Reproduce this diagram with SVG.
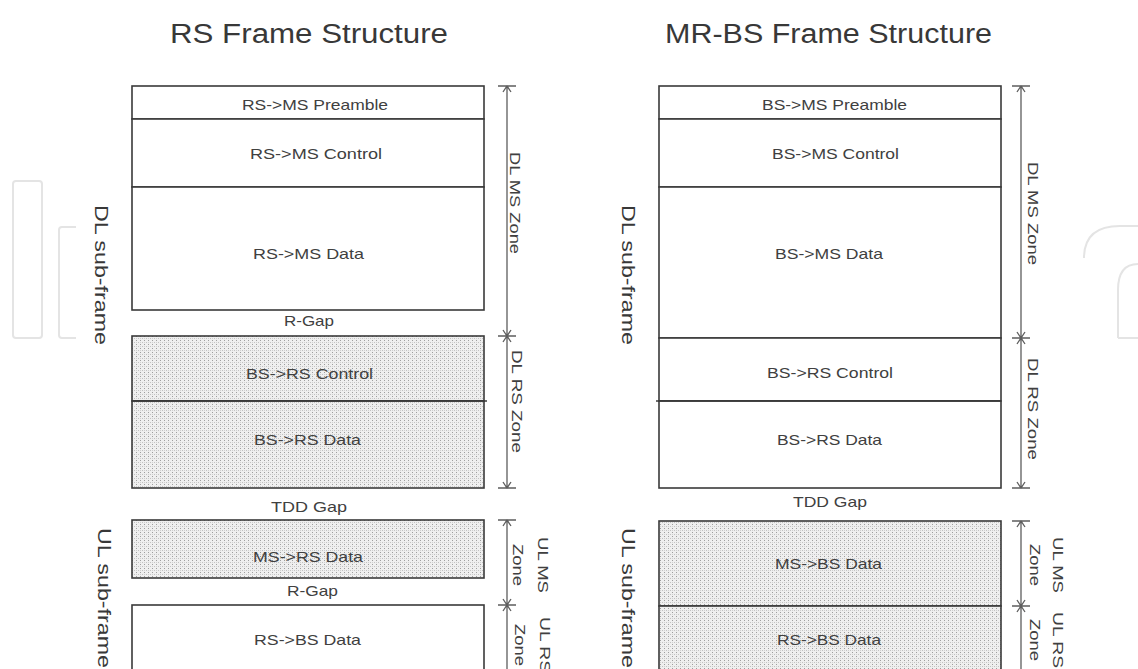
<svg xmlns="http://www.w3.org/2000/svg" width="1138" height="669" viewBox="0 0 1138 669">
<style>
.bg{fill:#ffffff}
.box{fill:#ffffff;stroke:#3a3a3a;stroke-width:1.6}
.shade{fill:url(#dots);stroke:#3a3a3a;stroke-width:1.6}
.div{stroke:#3a3a3a;stroke-width:1.4;fill:none}
.lbl{font-family:"Liberation Sans",Arial,sans-serif;font-size:15px;fill:#404040}
.title{font-family:"Liberation Sans",Arial,sans-serif;font-size:27px;fill:#383838}
.side{font-family:"Liberation Sans",Arial,sans-serif;font-size:18px;fill:#383838}
.dim{stroke:#5e5e5e;stroke-width:1.3;fill:none}
.wm{stroke:#e4e4e4;stroke-width:2;fill:none}
</style>
<defs>
<pattern id="dots" width="4" height="4" patternUnits="userSpaceOnUse">
<rect width="4" height="4" fill="#efefef"/>
<rect x="0" y="0" width="1" height="1" fill="#9e9e9e"/>
<rect x="2" y="2" width="1" height="1" fill="#c2c2c2"/>
<rect x="0" y="2" width="1" height="1" fill="#d0d0d0"/>
</pattern>
</defs>
<rect class="bg" x="0" y="0" width="1138" height="669"/>
<g id="watermark">
<rect class="wm" x="13" y="181" width="29" height="157" rx="3"/>
<path class="wm" d="M76 227 H62 Q59 227 59 230 V335 Q59 338 62 338 H76"/>
<path class="wm" d="M1084 258 Q1084 226 1120 226 H1138"/>
<path class="wm" d="M1118 338 V290 Q1118 264 1138 264"/>
<path class="wm" d="M1118 338 H1138"/>
</g>
<g id="title-rs"><text class="title" x="170" y="43" textLength="278" lengthAdjust="spacingAndGlyphs">RS Frame Structure</text></g>
<g id="title-mrbs"><text class="title" x="665" y="43" textLength="327" lengthAdjust="spacingAndGlyphs">MR-BS Frame Structure</text></g>

<g id="rs-ms-preamble"><rect class="box" x="132" y="86" width="352" height="33"/><text class="lbl" x="242" y="110" textLength="146" lengthAdjust="spacingAndGlyphs">RS-&gt;MS Preamble</text></g>
<g id="rs-ms-control"><rect class="box" x="132" y="119" width="352" height="68"/><text class="lbl" x="250" y="159" textLength="132" lengthAdjust="spacingAndGlyphs">RS-&gt;MS Control</text></g>
<g id="rs-ms-data"><rect class="box" x="132" y="187" width="352" height="123"/><text class="lbl" x="253" y="259" textLength="111" lengthAdjust="spacingAndGlyphs">RS-&gt;MS Data</text></g>
<g id="rs-rgap1"><text class="lbl" x="284" y="326" textLength="50" lengthAdjust="spacingAndGlyphs">R-Gap</text></g>
<g id="rs-bs-rs-control"><rect class="shade" x="132" y="336" width="352" height="65"/><text class="lbl" x="246" y="379" textLength="127" lengthAdjust="spacingAndGlyphs">BS-&gt;RS Control</text></g>
<g id="rs-bs-rs-data"><rect class="shade" x="132" y="401" width="352" height="87"/><line class="div" x1="132" y1="401" x2="487" y2="401"/><text class="lbl" x="254" y="445" textLength="107" lengthAdjust="spacingAndGlyphs">BS-&gt;RS Data</text></g>
<g id="rs-tddgap"><text class="lbl" x="271" y="512" textLength="76" lengthAdjust="spacingAndGlyphs">TDD Gap</text></g>
<g id="rs-ms-rs-data"><rect class="shade" x="132" y="520" width="352" height="58"/><text class="lbl" x="253" y="562" textLength="110" lengthAdjust="spacingAndGlyphs">MS-&gt;RS Data</text></g>
<g id="rs-rgap2"><text class="lbl" x="287" y="596" textLength="51" lengthAdjust="spacingAndGlyphs">R-Gap</text></g>
<g id="rs-rs-bs-data"><rect class="box" x="132" y="605" width="352" height="80"/><text class="lbl" x="254" y="645" textLength="107" lengthAdjust="spacingAndGlyphs">RS-&gt;BS Data</text></g>

<g id="rs-dl-subframe"><g transform="translate(101,275) rotate(90)"><text class="side" x="-70" y="6.5" textLength="140" lengthAdjust="spacingAndGlyphs">DL sub-frame</text></g></g>
<g id="rs-ul-subframe"><g transform="translate(104,598) rotate(90)"><text class="side" x="-70" y="6.5" textLength="140" lengthAdjust="spacingAndGlyphs">UL sub-frame</text></g></g>
<g id="rs-dl-ms-zone"><g transform="translate(515,203) rotate(90)"><text class="lbl" x="-51" y="5" textLength="102" lengthAdjust="spacingAndGlyphs">DL MS Zone</text></g></g>
<g id="rs-dl-rs-zone"><g transform="translate(517,401) rotate(90)"><text class="lbl" x="-51" y="5" textLength="103" lengthAdjust="spacingAndGlyphs">DL RS Zone</text></g></g>
<g id="rs-ul-ms-zone"><g transform="translate(530,565) rotate(90)"><text class="lbl" x="-28" y="-8" textLength="56" lengthAdjust="spacingAndGlyphs">UL MS</text><text class="lbl" x="-21" y="17" textLength="42" lengthAdjust="spacingAndGlyphs">Zone</text></g></g>
<g id="rs-ul-rs-zone"><g transform="translate(532,645) rotate(90)"><text class="lbl" x="-28" y="-8" textLength="56" lengthAdjust="spacingAndGlyphs">UL RS</text><text class="lbl" x="-21" y="17" textLength="42" lengthAdjust="spacingAndGlyphs">Zone</text></g></g>

<g id="bs-ms-preamble"><rect class="box" x="659" y="86" width="342" height="33"/><text class="lbl" x="762" y="110" textLength="145" lengthAdjust="spacingAndGlyphs">BS-&gt;MS Preamble</text></g>
<g id="bs-ms-control"><rect class="box" x="659" y="119" width="342" height="68"/><text class="lbl" x="772" y="159" textLength="127" lengthAdjust="spacingAndGlyphs">BS-&gt;MS Control</text></g>
<g id="bs-ms-data"><rect class="box" x="659" y="187" width="342" height="151"/><text class="lbl" x="775" y="259" textLength="108" lengthAdjust="spacingAndGlyphs">BS-&gt;MS Data</text></g>
<g id="bs-bs-rs-control"><rect class="box" x="659" y="338" width="342" height="63"/><text class="lbl" x="767" y="378" textLength="126" lengthAdjust="spacingAndGlyphs">BS-&gt;RS Control</text></g>
<g id="bs-bs-rs-data"><rect class="box" x="659" y="401" width="342" height="87"/><line class="div" x1="656" y1="401" x2="1001" y2="401"/><text class="lbl" x="777" y="445" textLength="105" lengthAdjust="spacingAndGlyphs">BS-&gt;RS Data</text></g>
<g id="bs-tddgap"><text class="lbl" x="793" y="507" textLength="74" lengthAdjust="spacingAndGlyphs">TDD Gap</text></g>
<g id="bs-ms-bs-data"><rect class="shade" x="659" y="521" width="342" height="85"/><text class="lbl" x="775" y="569" textLength="107" lengthAdjust="spacingAndGlyphs">MS-&gt;BS Data</text></g>
<g id="bs-rs-bs-data"><rect class="shade" x="659" y="606" width="342" height="80"/><text class="lbl" x="777" y="645" textLength="104" lengthAdjust="spacingAndGlyphs">RS-&gt;BS Data</text></g>

<g id="bs-dl-subframe"><g transform="translate(628,275) rotate(90)"><text class="side" x="-70" y="6.5" textLength="140" lengthAdjust="spacingAndGlyphs">DL sub-frame</text></g></g>
<g id="bs-ul-subframe"><g transform="translate(628,598) rotate(90)"><text class="side" x="-70" y="6.5" textLength="140" lengthAdjust="spacingAndGlyphs">UL sub-frame</text></g></g>
<g id="bs-dl-ms-zone"><g transform="translate(1033,213) rotate(90)"><text class="lbl" x="-51" y="5" textLength="103" lengthAdjust="spacingAndGlyphs">DL MS Zone</text></g></g>
<g id="bs-dl-rs-zone"><g transform="translate(1033,409) rotate(90)"><text class="lbl" x="-51" y="5" textLength="102" lengthAdjust="spacingAndGlyphs">DL RS Zone</text></g></g>
<g id="bs-ul-ms-zone"><g transform="translate(1045,565) rotate(90)"><text class="lbl" x="-28" y="-8" textLength="56" lengthAdjust="spacingAndGlyphs">UL MS</text><text class="lbl" x="-21" y="15" textLength="42" lengthAdjust="spacingAndGlyphs">Zone</text></g></g>
<g id="bs-ul-rs-zone"><g transform="translate(1045,640) rotate(90)"><text class="lbl" x="-28" y="-8" textLength="56" lengthAdjust="spacingAndGlyphs">UL RS</text><text class="lbl" x="-21" y="15" textLength="42" lengthAdjust="spacingAndGlyphs">Zone</text></g></g>

<g id="connectors">
<path class="dim" d="M507 86 V488 M498 86 H516 M503 92 L507 86 L511 92 M498 336 H516 M503 342 L507 336 L511 342 M503 330 L507 336 L511 330 M498 488 H516 M503 482 L507 488 L511 482"/>
<path class="dim" d="M507 520 V669 M498 520 H516 M503 526 L507 520 L511 526 M498 605 H516 M503 611 L507 605 L511 611 M503 599 L507 605 L511 599"/>
<path class="dim" d="M1021 86 V488 M1012 86 H1030 M1017 92 L1021 86 L1025 92 M1012 338 H1030 M1017 344 L1021 338 L1025 344 M1017 332 L1021 338 L1025 332 M1012 488 H1030 M1017 482 L1021 488 L1025 482"/>
<path class="dim" d="M1021 521 V669 M1012 521 H1030 M1017 527 L1021 521 L1025 527 M1012 606 H1030 M1017 612 L1021 606 L1025 612 M1017 600 L1021 606 L1025 600"/>
</g>
</svg>
